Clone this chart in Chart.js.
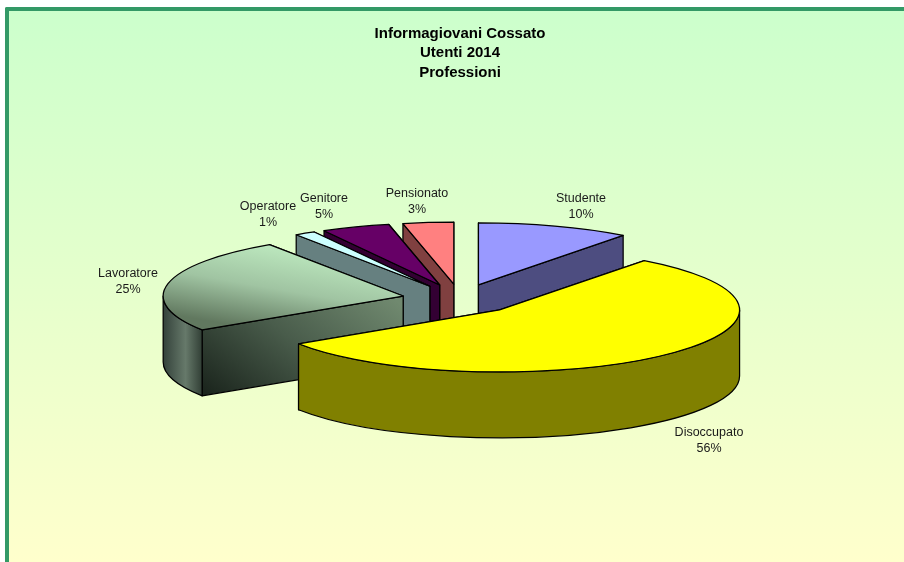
<!DOCTYPE html>
<html lang="it">
<head>
<meta charset="utf-8">
<title>Informagiovani Cossato</title>
<script src="https://cdn.jsdelivr.net/npm/chart.js@4"></script>
<style>
  html, body { margin: 0; padding: 0; background: #fff; overflow: hidden; }
  #wrap { position: relative; width: 904px; height: 562px; overflow: hidden; }
  #frame {
    position: absolute; left: 5px; top: 7px; width: 899px; height: 555px;
    border-left: 4px solid #339966; border-top: 4px solid #339966;
    border-top-left-radius: 2px; box-sizing: border-box;
    background: linear-gradient(#ccffcc, #ffffcc);
  }
  canvas { position: absolute; left: 0; top: 0; }
</style>
</head>
<body>
<div id="wrap">
  <div id="frame"></div>
  <canvas id="pie" width="904" height="562"></canvas>
</div>
<script>
  const titleLines = ['Informagiovani Cossato', 'Utenti 2014', 'Professioni'];
  const categories = ['Studente', 'Disoccupato', 'Lavoratore', 'Operatore', 'Genitore', 'Pensionato'];
  // shares, the labels show them rounded
  const shares = [10.3, 55.5, 24.8, 1.4, 4.6, 3.4];

  const topColors = ['#9999ff', '#ffff00', '#b9e6bb', '#ccffff', '#660066', '#ff8080'];
  const wallColors = ['#4d4d80', '#808000', '#5f7560', '#668080', '#330033', '#804040'];
  // back to front, the slices overlap each other in this order
  const drawOrder = [0, 5, 4, 3, 2, 1];
  // centre of each label's first line
  const labelAnchors = [[581, 199], [709, 433], [128, 274], [268, 207], [324, 199], [417, 194]];

  const pieCenter = { x: 460, y: 299 };
  const flatten = 0.258;
  const depth = 66;
  const explode = 58; // slices are pulled out here, the arc offset option distorts small ones
  const pieRadius = 240;

  function lavoratoreGradient(chart) {
    const area = chart.chartArea;
    if (!area) return topColors[2];
    const ax = (area.left + area.right) / 2;
    const ay = (area.top + area.bottom) / 2;
    // screen points mapped back to the unflattened pie plane, drawn pulled out by about (-57, -3)
    const g = chart.ctx.createLinearGradient(
      ax + (372 + 57 - pieCenter.x), ay + (262 + 3 - pieCenter.y) / flatten,
      ax + (215 + 57 - pieCenter.x), ay + (322 + 3 - pieCenter.y) / flatten);
    g.addColorStop(0, '#bce8be');
    g.addColorStop(0.5, '#a0c4a2');
    g.addColorStop(1, '#61785f');
    return g;
  }

  function wallFill(ctx, index, kind) {
    if (index !== 2) return wallColors[index];
    let g;
    if (kind === 'outer') {
      g = ctx.createLinearGradient(163, 0, 204, 0);
      g.addColorStop(0, '#33413a');
      g.addColorStop(0.55, '#66796a');
      g.addColorStop(1, '#2b382f');
    } else {
      g = ctx.createLinearGradient(215, 400, 330, 250);
      g.addColorStop(0, '#1b251d');
      g.addColorStop(0.5, '#495c4b');
      g.addColorStop(1, '#70896f');
    }
    return g;
  }

  function sliceGeometry(arc) {
    const mid = (arc.startAngle + arc.endAngle) / 2;
    const dx = Math.cos(mid) * explode;
    const dy = Math.sin(mid) * explode;
    const x = pieCenter.x + dx;
    const y = pieCenter.y + dy * flatten;
    const r = arc.outerRadius;
    return {
      x: x, y: y, r: r, ry: r * flatten, dx: dx, dy: dy,
      edge: function (a) { return [x + Math.cos(a) * r, y + Math.sin(a) * r * flatten]; }
    };
  }

  function paint(ctx, fill) {
    ctx.fillStyle = fill;
    ctx.fill();
    ctx.stroke();
  }

  function drawRadialWall(ctx, s, a, fill) {
    const e = s.edge(a);
    ctx.beginPath();
    ctx.moveTo(s.x, s.y);
    ctx.lineTo(e[0], e[1]);
    ctx.lineTo(e[0], e[1] + depth);
    ctx.lineTo(s.x, s.y + depth);
    ctx.closePath();
    paint(ctx, fill);
  }

  function drawSlice(chart, arc, index) {
    const ctx = chart.ctx;
    const s = sliceGeometry(arc);
    ctx.strokeStyle = '#000';
    ctx.lineWidth = 1.25;
    ctx.lineJoin = 'round';

    const edges = [arc.startAngle, arc.endAngle].sort(function (p, q) { return s.edge(p)[1] - s.edge(q)[1]; });
    edges.forEach(function (a) { drawRadialWall(ctx, s, a, wallFill(ctx, index, 'radial')); });

    // rounded wall, only the part turned to the viewer
    const a1 = Math.max(arc.startAngle, 0);
    const a2 = Math.min(arc.endAngle, Math.PI);
    if (a2 > a1) {
      ctx.beginPath();
      ctx.ellipse(s.x, s.y, s.r, s.ry, 0, a1, a2);
      ctx.ellipse(s.x, s.y + depth, s.r, s.ry, 0, a2, a1, true);
      ctx.closePath();
      paint(ctx, wallFill(ctx, index, 'outer'));
    }

    // top face goes through the arc element, flattened
    ctx.save();
    ctx.translate(pieCenter.x, pieCenter.y);
    ctx.scale(1, flatten);
    ctx.translate(s.dx - arc.x, s.dy - arc.y);
    arc.draw(ctx);
    ctx.restore();

    ctx.beginPath();
    ctx.moveTo(s.x, s.y);
    ctx.ellipse(s.x, s.y, s.r, s.ry, 0, arc.startAngle, arc.endAngle);
    ctx.closePath();
    ctx.stroke();
  }

  const pie3d = {
    id: 'pie3d',
    beforeDatasetsDraw: function (chart) {
      const arcs = chart.getDatasetMeta(0).data;
      drawOrder.forEach(function (i) { drawSlice(chart, arcs[i], i); });

      const ctx = chart.ctx;
      ctx.font = '12.5px "Liberation Sans", Arial, sans-serif';
      ctx.fillStyle = '#1a1a1a';
      ctx.textAlign = 'center';
      ctx.textBaseline = 'middle';
      categories.forEach(function (name, i) {
        ctx.fillText(name, labelAnchors[i][0], labelAnchors[i][1]);
        ctx.fillText(Math.round(shares[i]) + '%', labelAnchors[i][0], labelAnchors[i][1] + 16);
      });
      return false;
    }
  };

  new Chart(document.getElementById('pie'), {
    type: 'pie',
    data: {
      labels: categories,
      datasets: [{
        data: shares,
        backgroundColor: function (c) {
          return c.dataIndex === 2 ? lavoratoreGradient(c.chart) : topColors[c.dataIndex];
        },
        borderWidth: 0
      }]
    },
    options: {
      responsive: false,
      animation: false,
      radius: pieRadius,
      layout: { padding: { left: 16 } },
      events: [],
      plugins: {
        legend: { display: false },
        tooltip: { enabled: false },
        title: {
          display: true,
          text: titleLines,
          color: '#000',
          padding: { top: 24, bottom: 0 },
          font: { family: '"Liberation Sans", Arial, sans-serif', size: 15, weight: 'bold', lineHeight: 1.3 }
        }
      }
    },
    plugins: [pie3d]
  });
</script>
</body>
</html>
